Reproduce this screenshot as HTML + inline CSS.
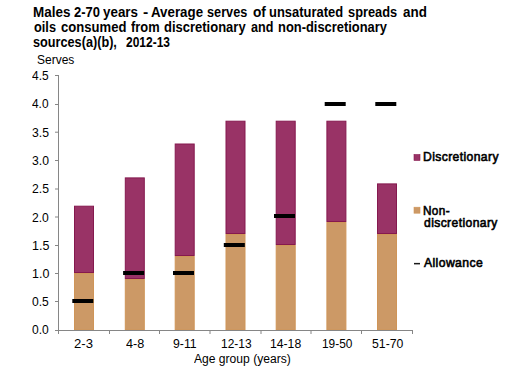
<!DOCTYPE html>
<html><head><meta charset="utf-8"><style>
html,body{margin:0;padding:0;background:#fff;}
body{width:508px;height:375px;position:relative;overflow:hidden;font-family:"Liberation Sans",sans-serif;color:#000;}
svg{position:absolute;left:0;top:0;}
span{position:absolute;white-space:pre;transform-origin:0 0;}
.t{font-weight:bold;font-size:13px;line-height:16px;}
.yl,.xl{font-size:13px;line-height:16px;}
.ax{font-size:12px;line-height:14px;}
.lg{font-size:12.5px;line-height:14px;letter-spacing:0.4px;-webkit-text-stroke:0.6px #000;}
.sq{position:absolute;}
</style></head><body>
<svg width="508" height="375" viewBox="0 0 508 375">
<rect x="74.50" y="206.20" width="19" height="66.30" fill="#993366" stroke="#85194f" stroke-width="1"/>
<rect x="74.50" y="273.50" width="19" height="56.50" fill="#cc9966" stroke="#cf9558" stroke-width="1"/>
<rect x="125.30" y="177.90" width="19" height="100.60" fill="#993366" stroke="#85194f" stroke-width="1"/>
<rect x="125.30" y="279.50" width="19" height="50.50" fill="#cc9966" stroke="#cf9558" stroke-width="1"/>
<rect x="175.20" y="144.00" width="19" height="111.50" fill="#993366" stroke="#85194f" stroke-width="1"/>
<rect x="175.20" y="256.50" width="19" height="73.50" fill="#cc9966" stroke="#cf9558" stroke-width="1"/>
<rect x="226.00" y="121.20" width="19" height="112.30" fill="#993366" stroke="#85194f" stroke-width="1"/>
<rect x="226.00" y="234.50" width="19" height="95.50" fill="#cc9966" stroke="#cf9558" stroke-width="1"/>
<rect x="276.20" y="121.20" width="19" height="123.30" fill="#993366" stroke="#85194f" stroke-width="1"/>
<rect x="276.20" y="245.50" width="19" height="84.50" fill="#cc9966" stroke="#cf9558" stroke-width="1"/>
<rect x="326.90" y="121.20" width="19" height="100.30" fill="#993366" stroke="#85194f" stroke-width="1"/>
<rect x="326.90" y="222.50" width="19" height="107.50" fill="#cc9966" stroke="#cf9558" stroke-width="1"/>
<rect x="377.50" y="183.90" width="19" height="49.60" fill="#993366" stroke="#85194f" stroke-width="1"/>
<rect x="377.50" y="234.50" width="19" height="95.50" fill="#cc9966" stroke="#cf9558" stroke-width="1"/>
<rect x="72.30" y="299" width="21" height="4" fill="#000"/>
<rect x="123.10" y="271" width="21" height="4" fill="#000"/>
<rect x="173.00" y="271" width="21" height="4" fill="#000"/>
<rect x="223.80" y="243" width="21" height="4" fill="#000"/>
<rect x="274.00" y="214" width="21" height="4" fill="#000"/>
<rect x="324.70" y="102" width="21" height="4" fill="#000"/>
<rect x="375.30" y="102" width="21" height="4" fill="#000"/>
<g shape-rendering="crispEdges">
<rect x="58" y="75" width="1" height="258" fill="#868686"/>
<rect x="58" y="330" width="355" height="1" fill="#868686"/>
<rect x="55" y="330" width="3" height="1" fill="#868686"/>
<rect x="55" y="301" width="3" height="1" fill="#868686"/>
<rect x="55" y="273" width="3" height="1" fill="#868686"/>
<rect x="55" y="245" width="3" height="1" fill="#868686"/>
<rect x="55" y="160" width="3" height="1" fill="#868686"/>
<rect x="55" y="104" width="3" height="1" fill="#868686"/>
<rect x="55" y="75" width="3" height="1" fill="#868686"/>
<rect x="58" y="331" width="1" height="3" fill="#868686"/>
<rect x="109" y="331" width="1" height="3" fill="#868686"/>
<rect x="159" y="331" width="1" height="3" fill="#868686"/>
<rect x="361" y="331" width="1" height="3" fill="#868686"/>
<rect x="412" y="331" width="1" height="3" fill="#868686"/>
</g>
<rect x="55" y="216.5" width="3" height="1" fill="#868686"/>
<rect x="55" y="188.5" width="3" height="1" fill="#868686"/>
<rect x="55" y="131.7" width="3" height="1" fill="#868686"/>
<rect x="209.5" y="331" width="1" height="3" fill="#868686"/>
<rect x="260.5" y="331" width="1" height="3" fill="#868686"/>
<rect x="310.5" y="331" width="1" height="3" fill="#868686"/>
<rect x="414" y="154.5" width="6" height="6" fill="#993366" stroke="#85194f" stroke-width="0.6"/>
<rect x="414" y="207.2" width="6" height="6" fill="#cc9966" stroke="#cf9558" stroke-width="0.6"/>
<rect x="414" y="262.9" width="6" height="1.5" fill="#1a1a1a"/>
</svg>
<span id="t1_0" class="t" style="left:33.44px;top:4.00px;transform:scale(1.0362,1.1)">Males</span>
<span id="t1_1" class="t" style="left:73.80px;top:4.00px;transform:scale(0.9998,1.1)">2-70</span>
<span id="t1_2" class="t" style="left:103.43px;top:4.00px;transform:scale(1.0304,1.1)">years</span>
<span id="t1_3" class="t" style="left:143.35px;top:4.00px;transform:scale(1.2143,1.1)">-</span>
<span id="t1_4" class="t" style="left:151.46px;top:4.00px;transform:scale(1.0243,1.1)">Average</span>
<span id="t1_5" class="t" style="left:207.39px;top:4.00px;transform:scale(0.9788,1.1)">serves</span>
<span id="t1_6" class="t" style="left:253.29px;top:4.00px;transform:scale(1.0527,1.1)">of</span>
<span id="t1_7" class="t" style="left:269.33px;top:4.00px;transform:scale(0.9964,1.1)">unsaturated</span>
<span id="t1_8" class="t" style="left:348.19px;top:4.00px;transform:scale(0.9871,1.1)">spreads</span>
<span id="t1_9" class="t" style="left:403.49px;top:4.00px;transform:scale(1.0322,1.1)">and</span>
<span id="t2_0" class="t" style="left:33.73px;top:19.00px;transform:scale(0.9820,1.1)">oils</span>
<span id="t2_1" class="t" style="left:60.92px;top:19.00px;transform:scale(1.0057,1.1)">consumed</span>
<span id="t2_2" class="t" style="left:130.52px;top:19.00px;transform:scale(0.9903,1.1)">from</span>
<span id="t2_3" class="t" style="left:163.70px;top:19.00px;transform:scale(0.9995,1.1)">discretionary</span>
<span id="t2_4" class="t" style="left:251.42px;top:19.00px;transform:scale(0.9683,1.1)">and</span>
<span id="t2_5" class="t" style="left:277.88px;top:19.00px;transform:scale(0.9926,1.1)">non-discretionary</span>
<span id="t3_0" class="t" style="left:33.40px;top:34.00px;transform:scale(0.9759,1.1)">sources(a)(b),</span>
<span id="t3_1" class="t" style="left:126.34px;top:34.00px;transform:scale(0.9224,1.1)">2012-13</span>
<span id="y0" class="yl" style="left:32.26px;top:321.90px;transform:scale(0.9274,1)">0.0</span>
<span id="y1" class="yl" style="left:32.26px;top:293.57px;transform:scale(0.9310,1)">0.5</span>
<span id="y2" class="yl" style="left:31.73px;top:266.23px;transform:scale(0.9580,1)">1.0</span>
<span id="y3" class="yl" style="left:31.73px;top:237.90px;transform:scale(0.9617,1)">1.5</span>
<span id="y4" class="yl" style="left:32.16px;top:209.57px;transform:scale(0.9332,1)">2.0</span>
<span id="y5" class="yl" style="left:32.16px;top:181.23px;transform:scale(0.9367,1)">2.5</span>
<span id="y6" class="yl" style="left:32.11px;top:152.90px;transform:scale(0.9363,1)">3.0</span>
<span id="y7" class="yl" style="left:32.11px;top:124.57px;transform:scale(0.9398,1)">3.5</span>
<span id="y8" class="yl" style="left:32.47px;top:96.23px;transform:scale(0.9155,1)">4.0</span>
<span id="y9" class="yl" style="left:32.47px;top:67.90px;transform:scale(0.9189,1)">4.5</span>
<span id="x0" class="xl" style="left:74.11px;top:336.00px;transform:scale(1.0077,1)">2-3</span>
<span id="x1" class="xl" style="left:125.55px;top:336.00px;transform:scale(0.9722,1)">4-8</span>
<span id="x2" class="xl" style="left:172.75px;top:336.00px;transform:scale(0.9432,1)">9-11</span>
<span id="x3" class="xl" style="left:220.97px;top:336.00px;transform:scale(0.9194,1)">12-13</span>
<span id="x4" class="xl" style="left:270.35px;top:336.00px;transform:scale(0.9380,1)">14-18</span>
<span id="x5" class="xl" style="left:321.58px;top:336.00px;transform:scale(0.9148,1)">19-50</span>
<span id="x6" class="xl" style="left:371.68px;top:336.00px;transform:scale(0.9424,1)">51-70</span>
<span id="serves" class="ax" style="left:37.20px;top:53.00px;transform:scale(0.9991,1)">Serves</span>
<span id="age" class="ax" style="left:193.68px;top:352.00px;transform:scale(1.0074,1)">Age group (years)</span>
<span id="lg0" class="lg" style="left:422.93px;top:150.00px;transform:scale(0.9707,1)">Discretionary</span>
<span id="lg1" class="lg" style="left:423.15px;top:203.50px;transform:scale(0.9403,1)">Non-</span>
<span id="lg2" class="lg" style="left:423.50px;top:216.00px;transform:scale(0.9702,1)">discretionary</span>
<span id="lg3" class="lg" style="left:423.59px;top:256.00px;transform:scale(0.9756,1)">Allowance</span>
</body></html>
